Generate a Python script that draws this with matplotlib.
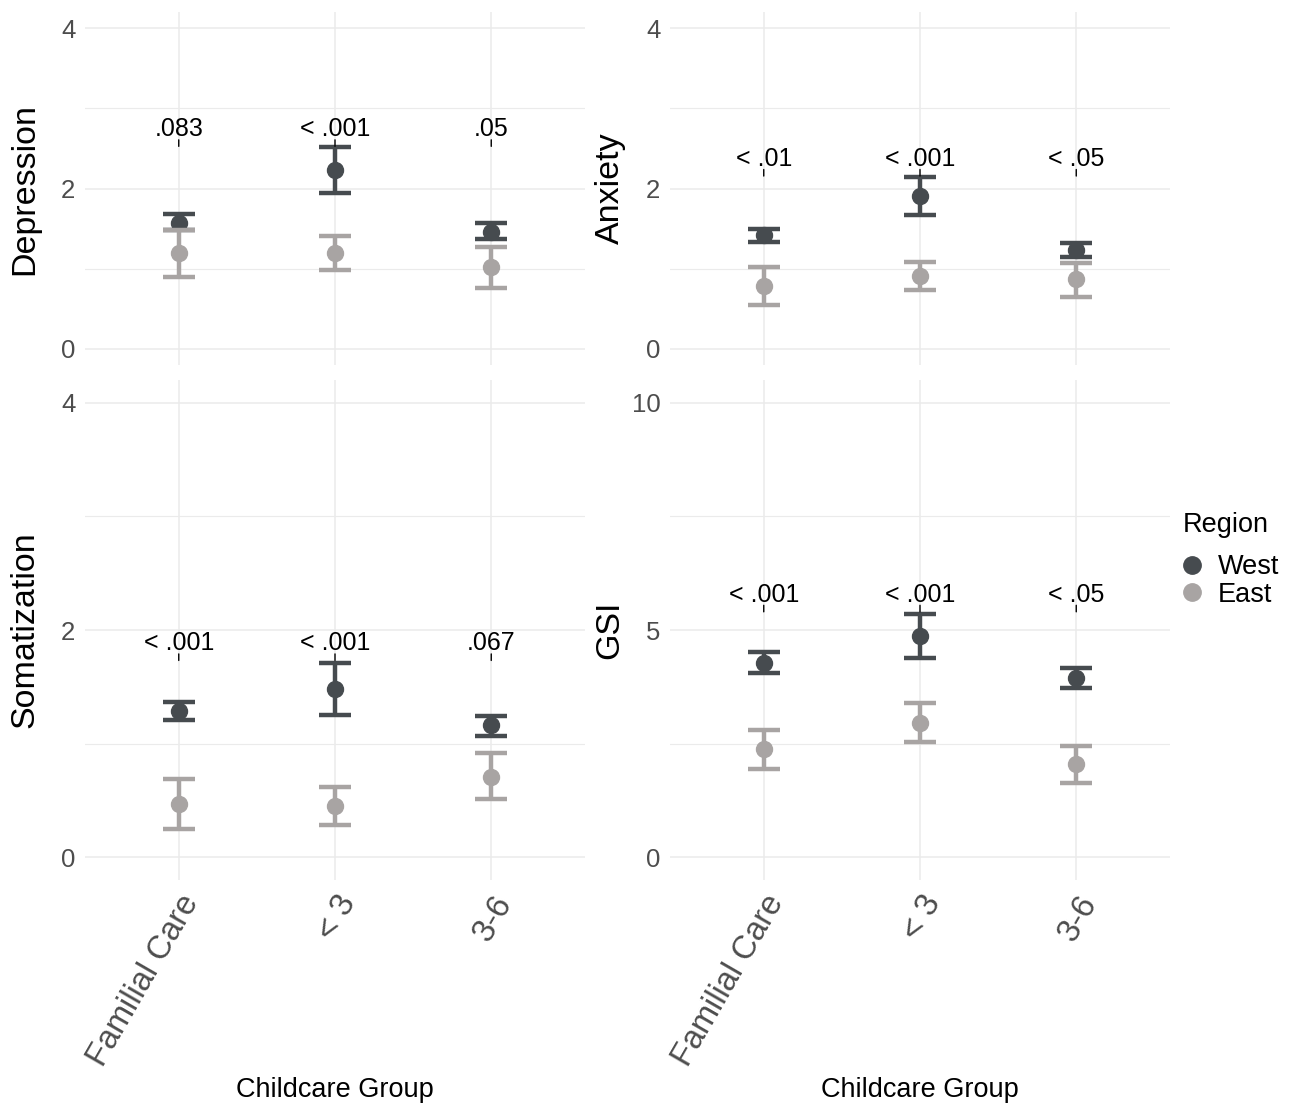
import matplotlib
matplotlib.use("Agg")
import matplotlib.pyplot as plt
import numpy as np
from matplotlib.lines import Line2D

plt.rcParams['font.family'] = ['Liberation Sans', 'DejaVu Sans']

# ---------------- data ----------------
categories = ["Familial Care", "< 3", "3-6"]
regions = ["West", "East"]

dep_west_mean = [1.57, 2.23, 1.46]
dep_west_lo = [1.48, 1.94, 1.37]
dep_west_hi = [1.68, 2.52, 1.57]
dep_east_mean = [1.20, 1.20, 1.02]
dep_east_lo = [0.90, 0.98, 0.76]
dep_east_hi = [1.48, 1.41, 1.27]
dep_p = [".083", "< .001", ".05"]
dep_p_y = 2.65

anx_west_mean = [1.42, 1.91, 1.23]
anx_west_lo = [1.33, 1.67, 1.15]
anx_west_hi = [1.50, 2.14, 1.32]
anx_east_mean = [0.79, 0.91, 0.87]
anx_east_lo = [0.55, 0.73, 0.65]
anx_east_hi = [1.02, 1.08, 1.07]
anx_p = ["< .01", "< .001", "< .05"]
anx_p_y = 2.28

som_west_mean = [1.29, 1.48, 1.16]
som_west_lo = [1.21, 1.25, 1.07]
som_west_hi = [1.37, 1.71, 1.24]
som_east_mean = [0.47, 0.45, 0.71]
som_east_lo = [0.25, 0.28, 0.51]
som_east_hi = [0.69, 0.62, 0.92]
som_p = ["< .001", "< .001", ".067"]
som_p_y = 1.82

gsi_west_mean = [4.27, 4.87, 3.94]
gsi_west_lo = [4.05, 4.38, 3.72]
gsi_west_hi = [4.52, 5.35, 4.16]
gsi_east_mean = [2.38, 2.95, 2.05]
gsi_east_lo = [1.94, 2.53, 1.63]
gsi_east_hi = [2.80, 3.39, 2.45]
gsi_p = ["< .001", "< .001", "< .05"]
gsi_p_y = 5.62

dep_ticks = [0, 2, 4]
anx_ticks = [0, 2, 4]
som_ticks = [0, 2, 4]
gsi_ticks = [0, 5, 10]

x_label = "Childcare Group"
legend_title = "Region"

# ---------------- style ----------------
COL = {"West": "#464b4f", "East": "#a8a4a3"}
GRID = "#ebebeb"
TICKCOL = "#4d4d4d"
W, H = 1293, 1104
DPI = 100

fig = plt.figure(figsize=(W / DPI, H / DPI), dpi=DPI)


def px_axes(left, right, top, bottom):
    return fig.add_axes([left / W, 1 - bottom / H, (right - left) / W, (bottom - top) / H])


panels = [
    dict(name="Depression", box=(85, 585, 12, 365), ticks=dep_ticks,
         west=(dep_west_mean, dep_west_lo, dep_west_hi),
         east=(dep_east_mean, dep_east_lo, dep_east_hi),
         p=dep_p, py=dep_p_y, bottom=False, ylabx=25),
    dict(name="Anxiety", box=(670, 1170, 12, 365), ticks=anx_ticks,
         west=(anx_west_mean, anx_west_lo, anx_west_hi),
         east=(anx_east_mean, anx_east_lo, anx_east_hi),
         p=anx_p, py=anx_p_y, bottom=False, ylabx=610),
    dict(name="Somatization", box=(85, 585, 380, 880), ticks=som_ticks,
         west=(som_west_mean, som_west_lo, som_west_hi),
         east=(som_east_mean, som_east_lo, som_east_hi),
         p=som_p, py=som_p_y, bottom=True, ylabx=25),
    dict(name="GSI", box=(670, 1170, 380, 880), ticks=gsi_ticks,
         west=(gsi_west_mean, gsi_west_lo, gsi_west_hi),
         east=(gsi_east_mean, gsi_east_lo, gsi_east_hi),
         p=gsi_p, py=gsi_p_y, bottom=True, ylabx=610),
]

xpos = np.arange(1, len(categories) + 1)

for pn in panels:
    l, r, t, b = pn["box"]
    ax = px_axes(l, r, t, b)
    ticks = pn["ticks"]
    rng = ticks[-1] - ticks[0]
    ax.set_ylim(ticks[0] - 0.05 * rng, ticks[-1] + 0.05 * rng)
    ax.set_xlim(0.4, len(categories) + 0.6)
    ax.set_yticks(ticks)
    minor = [(ticks[i] + ticks[i + 1]) / 2 for i in range(len(ticks) - 1)]
    ax.set_yticks(minor, minor=True)
    ax.set_xticks(xpos)
    ax.grid(True, which="major", color=GRID, linewidth=1.1, zorder=0)
    ax.grid(True, which="minor", axis="y", color=GRID, linewidth=0.8, zorder=0)
    ax.set_axisbelow(True)
    for s in ax.spines.values():
        s.set_visible(False)
    ax.tick_params(axis="both", which="both", length=0)
    ax.tick_params(axis="y", labelsize=18.5, labelcolor=TICKCOL, pad=7)
    if pn["bottom"]:
        ax.set_xticklabels(categories)
        for lab in ax.get_xticklabels():
            lab.set_rotation(60)
            lab.set_rotation_mode("anchor")
            lab.set_ha("right")
            lab.set_va("top")
            lab.set_fontsize(23.5)
            lab.set_color(TICKCOL)
        ax.tick_params(axis="x", pad=7)
    else:
        ax.set_xticklabels([])

    for reg, key in (("West", "west"), ("East", "east")):
        mean, lo, hi = pn[key]
        mean = np.array(mean); lo = np.array(lo); hi = np.array(hi)
        err = np.vstack([mean - lo, hi - mean])
        ax.errorbar(xpos, mean, yerr=err, fmt="o", color=COL[reg],
                    ecolor=COL[reg], elinewidth=3.2, capsize=11.5,
                    capthick=3.2, markersize=11.5, zorder=3 if reg == "West" else 4)

    for xi, lab in zip(xpos, pn["p"]):
        ax.text(xi, pn["py"], lab, ha="center", va="baseline", fontsize=18,
                color="black", zorder=5)
        ax.annotate("", xy=(xi, pn["py"]), xycoords="data",
                    xytext=(0, -10), textcoords="offset pixels",
                    arrowprops=dict(arrowstyle="-", color="black", lw=1.0,
                                    shrinkA=0, shrinkB=2.5))

    fig.text(pn["ylabx"] / W, 1 - ((t + b) / 2) / H, pn["name"], rotation=90,
             ha="center", va="center", fontsize=24.5, color="black")
    if pn["bottom"]:
        fig.text(((l + r) / 2) / W, 1 - 1090 / H, x_label, ha="center",
                 va="center", fontsize=19.5, color="black")

# legend (title drawn separately to match spacing)
fig.text(1183 / W, 1 - 525 / H, legend_title, ha="left", va="center",
         fontsize=19.5, color="black")
leg_handles = [Line2D([], [], marker="o", linestyle="none", color=COL[r],
                      markersize=12.5) for r in regions]
fig.legend(leg_handles, regions, loc="center left",
           bbox_to_anchor=(1177 / W, 1 - 581 / H),
           frameon=False, fontsize=19.5,
           handletextpad=0.4, labelspacing=0.05, borderaxespad=0,
           borderpad=0, handlelength=1.1)

fig.savefig("out.png", dpi=DPI)
